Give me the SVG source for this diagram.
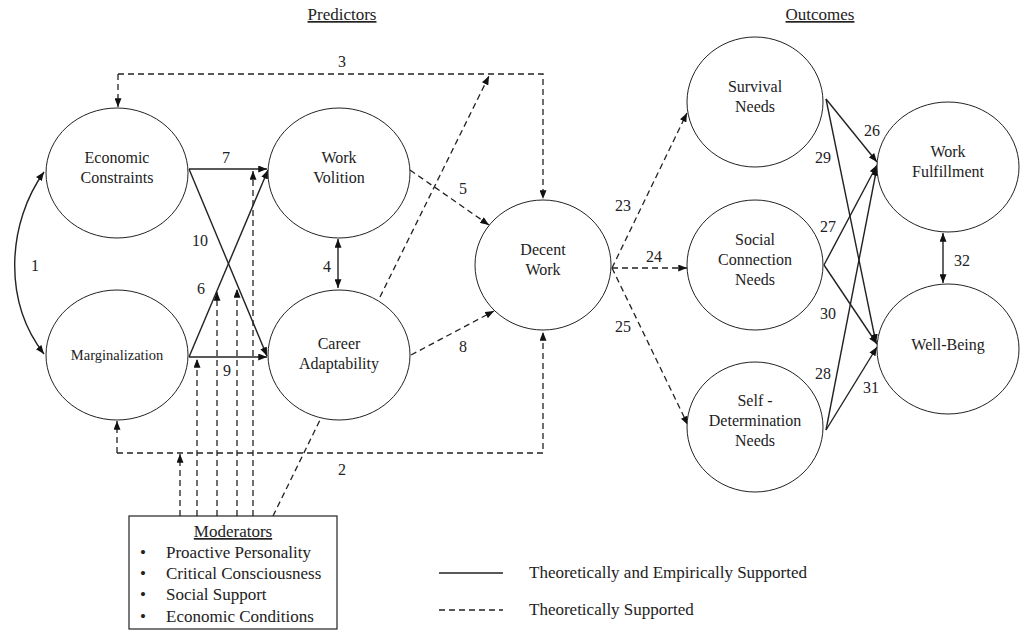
<svg xmlns="http://www.w3.org/2000/svg" width="1026" height="630" viewBox="0 0 1026 630">
<defs>
<style>
.n{font-family:"Liberation Serif","Times New Roman",serif;font-size:16px;fill:#222;text-anchor:middle}
.t{font-family:"Liberation Serif","Times New Roman",serif;font-size:17px;fill:#222}
.lb{font-family:"Liberation Serif","Times New Roman",serif;font-size:16px;fill:#222;text-anchor:middle}
.e{fill:#fff;stroke:#222;stroke-width:1}
.s{fill:none;stroke:#222;stroke-width:1.4}
.d{fill:none;stroke:#222;stroke-width:1.3;stroke-dasharray:6,4}
</style>
<marker id="a" viewBox="0 0 10 8" markerWidth="9" markerHeight="7" refX="10" refY="4" orient="auto" markerUnits="userSpaceOnUse"><path d="M0,0 L10,4 L0,8 z" fill="#111"/></marker>
<marker id="b" viewBox="0 0 10 8" markerWidth="9" markerHeight="7" refX="10" refY="4" orient="auto-start-reverse" markerUnits="userSpaceOnUse"><path d="M0,0 L10,4 L0,8 z" fill="#111"/></marker>
</defs>
<rect width="1026" height="630" fill="#fff"/>
<text class="t" x="342" y="20" text-anchor="middle" text-decoration="underline">Predictors</text>
<text class="t" x="820" y="20" text-anchor="middle" text-decoration="underline">Outcomes</text>
<g id="connectors">
<path class="d" d="M118,74 L543,74 L543,199" marker-end="url(#a)"/>
<path class="d" d="M118,74 L118,107" marker-end="url(#a)"/>
<path class="d" d="M117,453 L543,453 L543,332" marker-end="url(#a)"/>
<path class="d" d="M117,453 L117,421" marker-end="url(#a)"/>
<path class="s" d="M44,172 C8,222 2,300 44,354" marker-start="url(#b)" marker-end="url(#a)"/>
<path class="s" d="M189,169 L267,169" marker-end="url(#a)"/>
<path class="s" d="M189,169 L267,356" marker-end="url(#a)"/>
<path class="s" d="M189,357 L268,170" marker-end="url(#a)"/>
<path class="s" d="M189,357 L267,357" marker-end="url(#a)"/>
<path class="s" d="M338,239 L338,288" marker-start="url(#b)" marker-end="url(#a)"/>
<path class="d" d="M410,170 L489,225" marker-end="url(#a)"/>
<path class="d" d="M411,355 L494,311" marker-end="url(#a)"/>
<path class="d" d="M380,297 L489,76" marker-end="url(#a)"/>
<path class="d" d="M180,516 L180,454" marker-end="url(#a)"/>
<path class="d" d="M197,516 L197,359" marker-end="url(#a)"/>
<path class="d" d="M217,516 L217,292" marker-end="url(#a)"/>
<path class="d" d="M237,516 L237,289" marker-end="url(#a)"/>
<path class="d" d="M253,516 L253,171" marker-end="url(#a)"/>
<path class="d" d="M273,516 L320,420"/>
<path class="d" d="M612,268 L687,113" marker-end="url(#a)"/>
<path class="d" d="M612,268 L687,268" marker-end="url(#a)"/>
<path class="d" d="M612,268 L688,425" marker-end="url(#a)"/>
<path class="s" d="M826,99 L877,162" marker-end="url(#a)"/>
<path class="s" d="M826,99 L876,343" marker-end="url(#a)"/>
<path class="s" d="M824,265 L877,165" marker-end="url(#a)"/>
<path class="s" d="M824,265 L877,344" marker-end="url(#a)"/>
<path class="s" d="M826,430 L877,167" marker-end="url(#a)"/>
<path class="s" d="M826,430 L877,347" marker-end="url(#a)"/>
<path class="s" d="M943,233 L943,283" marker-start="url(#b)" marker-end="url(#a)"/>
</g>
<g id="labels">
<text class="lb" x="342" y="67">3</text>
<text class="lb" x="342" y="475">2</text>
<text class="lb" x="35" y="271">1</text>
<text class="lb" x="226" y="163">7</text>
<text class="lb" x="200" y="246">10</text>
<text class="lb" x="201" y="294">6</text>
<text class="lb" x="227" y="376">9</text>
<text class="lb" x="327" y="272">4</text>
<text class="lb" x="463" y="194">5</text>
<text class="lb" x="463" y="352">8</text>
<text class="lb" x="623" y="211">23</text>
<text class="lb" x="654" y="262">24</text>
<text class="lb" x="623" y="332">25</text>
<text class="lb" x="872" y="136">26</text>
<text class="lb" x="823" y="163">29</text>
<text class="lb" x="828" y="232">27</text>
<text class="lb" x="828" y="319">30</text>
<text class="lb" x="823" y="379">28</text>
<text class="lb" x="871" y="393">31</text>
<text class="lb" x="962" y="266">32</text>
</g>
<g id="economic-constraints"><ellipse class="e" cx="117" cy="173" rx="71" ry="65"/><text class="n" x="117" y="163">Economic</text><text class="n" x="117" y="183">Constraints</text></g>
<g id="work-volition"><ellipse class="e" cx="339" cy="173" rx="71" ry="65"/><text class="n" x="339" y="163">Work</text><text class="n" x="339" y="183">Volition</text></g>
<g id="marginalization"><ellipse class="e" cx="117" cy="355" rx="71" ry="65"/><text class="n" x="117" y="360" style="font-size:14.5px">Marginalization</text></g>
<g id="career-adaptability"><ellipse class="e" cx="339" cy="355" rx="71" ry="65"/><text class="n" x="339" y="349">Career</text><text class="n" x="339" y="369">Adaptability</text></g>
<g id="decent-work"><ellipse class="e" cx="543" cy="265" rx="68" ry="65"/><text class="n" x="543" y="255">Decent</text><text class="n" x="543" y="275">Work</text></g>
<g id="survival-needs"><ellipse class="e" cx="755" cy="102" rx="68" ry="65"/><text class="n" x="755" y="92">Survival</text><text class="n" x="755" y="112">Needs</text></g>
<g id="social-connection-needs"><ellipse class="e" cx="755" cy="265" rx="68" ry="65"/><text class="n" x="755" y="245">Social</text><text class="n" x="755" y="265">Connection</text><text class="n" x="755" y="285">Needs</text></g>
<g id="self-determination-needs"><ellipse class="e" cx="755" cy="427" rx="68" ry="65"/><text class="n" x="755" y="406">Self -</text><text class="n" x="755" y="426">Determination</text><text class="n" x="755" y="446">Needs</text></g>
<g id="work-fulfillment"><ellipse class="e" cx="948" cy="167" rx="71" ry="65"/><text class="n" x="948" y="157">Work</text><text class="n" x="948" y="177">Fulfillment</text></g>
<g id="well-being"><ellipse class="e" cx="948" cy="349" rx="71" ry="65"/><text class="n" x="948" y="350">Well-Being</text></g>
<g id="moderators">
<rect x="129" y="516" width="208" height="113" fill="#fff" stroke="#222" stroke-width="1.2"/>
<text class="t" x="233" y="537" text-anchor="middle" text-decoration="underline">Moderators</text>
<text class="t" x="143" y="558" text-anchor="middle">•</text><text class="t" x="166" y="558">Proactive Personality</text>
<text class="t" x="143" y="579" text-anchor="middle">•</text><text class="t" x="166" y="579">Critical Consciousness</text>
<text class="t" x="143" y="600" text-anchor="middle">•</text><text class="t" x="166" y="600">Social Support</text>
<text class="t" x="143" y="622" text-anchor="middle">•</text><text class="t" x="166" y="622">Economic Conditions</text>
</g>
<g id="legend">
<line class="s" x1="439" y1="573" x2="503" y2="573"/>
<line class="d" x1="439" y1="610" x2="503" y2="610"/>
<text class="t" x="529" y="578">Theoretically and Empirically Supported</text>
<text class="t" x="529" y="615">Theoretically Supported</text>
</g>
</svg>
